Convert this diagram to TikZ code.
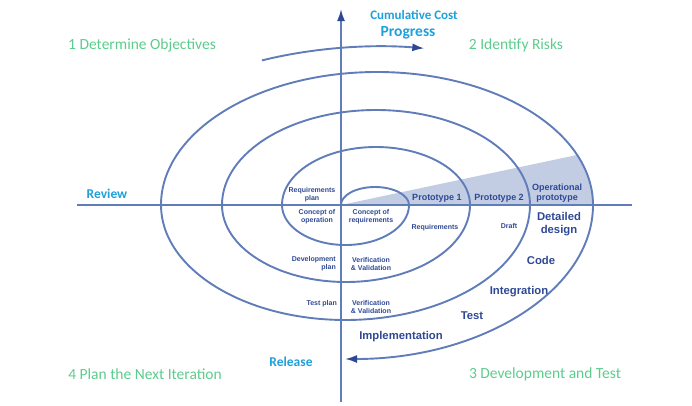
\documentclass[tikz,border=0pt]{standalone}
\usepackage{fontspec}
\setmainfont{Liberation Sans}
\newfontfamily\calfont{Carlito}
\usetikzlibrary{arrows.meta}
\definecolor{spiralblue}{RGB}{96,125,185}
\definecolor{labelblue}{RGB}{47,72,148}
\definecolor{wedgeblue}{RGB}{194,205,228}
\definecolor{phasegreen}{RGB}{92,204,140}
\definecolor{notecyan}{RGB}{30,160,218}
\tikzset{
  spiral/.style={draw=spiralblue, line width=1.9pt},
  tipped/.style={-{Latex[length=12pt,width=8pt,color=labelblue]}},
  small label/.style={text=labelblue, align=center, inner sep=0pt, font=\fontsize{7}{8}\selectfont\bfseries},
  mid label/.style={text=labelblue, align=center, inner sep=0pt, font=\fontsize{9}{10}\selectfont\bfseries},
  big label/.style={text=labelblue, align=center, inner sep=0pt, font=\fontsize{11.3}{13.5}\selectfont\bfseries},
  phase/.style={text=phasegreen, inner sep=0pt, font=\calfont\fontsize{15.5}{17}\selectfont},
  note/.style={text=notecyan, inner sep=0pt, font=\calfont\bfseries\fontsize{13.5}{15}\selectfont}
}
\begin{document}
\begin{tikzpicture}[x=1pt,y=1pt]
  \useasboundingbox (-341,-200) rectangle (351,205);
  % shaded prototype wedge
  \begin{scope}
    \clip (36,0) ellipse [x radius=216pt, y radius=133pt];
    \fill[wedgeblue] (0,0) -- (300,63.6) -- (300,0) -- cycle;
  \end{scope}
  % axes
  \coordinate (west) at (-264,0);
  \coordinate (east) at (291,0);
  \coordinate (south) at (0,-197);
  \coordinate (north) at (0,196);
  \draw[spiral] (west) -- (east);
  \draw[spiral, tipped] (south) -- (north);
  % spiral
  \draw[spiral, tipped] (0,0)
    arc[start angle=180, end angle=0, x radius=34pt, y radius=18pt]
    arc[start angle=0, end angle=-180, x radius=63.5pt, y radius=40pt]
    arc[start angle=180, end angle=0, x radius=94pt, y radius=58pt]
    arc[start angle=0, end angle=-180, x radius=124pt, y radius=77pt]
    arc[start angle=180, end angle=0, x radius=154pt, y radius=95pt]
    arc[start angle=0, end angle=-180, x radius=184.5pt, y radius=115pt]
    arc[start angle=180, end angle=0, x radius=216pt, y radius=133pt]
    arc[start angle=0, end angle=-90, x radius=248pt, y radius=154pt];
  % progress arrow
  \draw[spiral, tipped] (-79,144.6) arc[start angle=118.4, end angle=80, x radius=250pt, y radius=115pt];
  % quadrant titles
  \node[phase] (obj) at (-199,160) {1 Determine Objectives};
  \node[phase] (risk) at (175,160) {2 Identify Risks};
  \node[phase] (dev) at (204,-169) {3 Development and Test};
  \node[phase] (plan) at (-196,-169) {4 Plan the Next Iteration};
  % axis notes
  \node[note, font=\calfont\bfseries\fontsize{13}{14}\selectfont] (cost) at (73,190) {Cumulative Cost};
  \node[note, font=\calfont\bfseries\fontsize{15.5}{17}\selectfont] (progress) at (67,172.5) {Progress};
  \node[note] (review) at (-234,11) {Review};
  \node[note] (release) at (-50,-157) {Release};
  % inner labels
  \node[small label] (reqplan) at (-29,10) {Requirements\\plan};
  \node[small label] (conop) at (-24,-12) {Concept of\\operation};
  \node[small label] (conreq) at (30,-12) {Concept of\\requirements};
  \node[small label] (req) at (94,-23) {Requirements};
  \node[small label] (draft) at (168,-21) {Draft};
  \node[small label] (vv1) at (30,-59) {Verification\\\& Validation};
  \node[small label] (vv2) at (30,-102) {Verification\\\& Validation};
  \node[small label, align=right, anchor=east] (devplan) at (-5,-59) {Development\\plan};
  \node[small label, anchor=east] (testplan) at (-4,-99) {Test plan};
  \node[mid label] (proto1) at (96,7) {Prototype 1};
  \node[mid label] (proto2) at (158,7) {Prototype 2};
  \node[mid label] (opproto) at (216,12) {Operational\\prototype};
  \node[big label] (design) at (218,-19) {Detailed\\design};
  \node[big label] (code) at (200,-55) {Code};
  \node[big label] (integ) at (178,-87) {Integration};
  \node[big label] (test) at (131,-111) {Test};
  \node[big label] (impl) at (60,-132) {Implementation};
\end{tikzpicture}
\end{document}
